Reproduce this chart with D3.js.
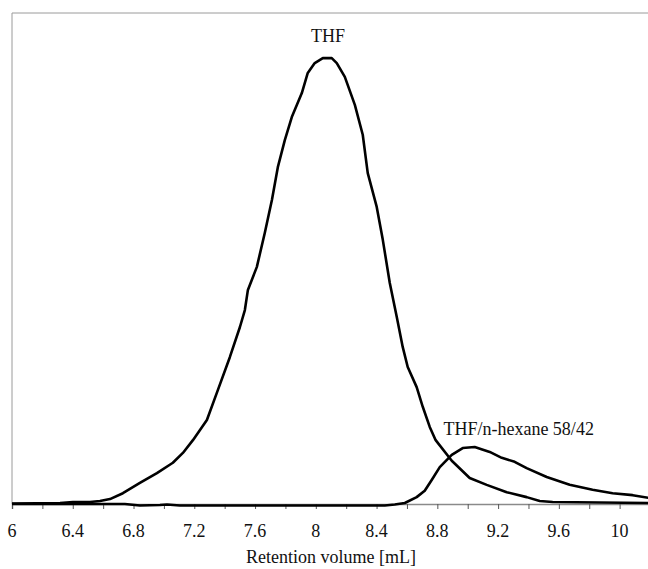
<!DOCTYPE html>
<html>
<head>
<meta charset="utf-8">
<script src="https://cdn.jsdelivr.net/npm/d3@7"></script>
<style>
  html, body { margin: 0; padding: 0; background: #fff; }
  svg { display: block; }
  text { font-family: "Liberation Serif", "Times New Roman", serif; fill: #111; }
</style>
</head>
<body>
<svg id="chart" width="648" height="569"></svg>
<script>
// Retention volume (mL) and detector signal (arbitrary units) for each eluent
const thfVolume = [6.000, 6.316, 6.401, 6.513, 6.579, 6.645, 6.730, 6.842, 6.954, 7.059,
  7.125, 7.191, 7.283, 7.355, 7.434, 7.500, 7.533, 7.553, 7.612, 7.664,
  7.711, 7.750, 7.796, 7.842, 7.908, 7.947, 7.993, 8.046, 8.105, 8.138,
  8.191, 8.257, 8.309, 8.342, 8.401, 8.441, 8.487, 8.533, 8.572, 8.605,
  8.664, 8.704, 8.750, 8.789, 8.895, 9.013, 9.125, 9.257, 9.388, 9.474,
  9.559, 9.868, 10.200];
const thfSignal = [0.1, 0.2, 0.4, 0.4, 0.6, 1.0, 2.2, 4.3, 6.3, 8.4,
  10.4, 13.0, 17.1, 23.2, 29.9, 36.0, 39.5, 43.6, 48.3, 55.2,
  61.9, 68.6, 74.1, 78.8, 83.7, 87.8, 89.8, 90.8, 90.8, 89.8,
  87.0, 81.3, 75.2, 67.4, 60.5, 53.8, 45.0, 38.1, 32.0, 27.9,
  23.8, 19.8, 15.7, 13.0, 8.8, 5.3, 3.9, 2.4, 1.4, 0.6,
  0.4, 0.3, 0.2];

const hexVolume = [6.000, 6.743, 6.842, 6.974, 7.020, 7.105, 7.566, 8.026, 8.454, 8.520,
  8.586, 8.664, 8.717, 8.763, 8.816, 8.895, 8.967, 9.046, 9.145, 9.224,
  9.309, 9.388, 9.520, 9.671, 9.822, 9.954, 10.086, 10.200];
const hexSignal = [0.0, 0.0, -0.3, -0.2, -0.1, -0.3, -0.3, -0.3, -0.3, -0.1,
  0.2, 1.4, 2.7, 4.9, 7.5, 10.0, 11.4, 11.6, 10.6, 9.4,
  8.6, 7.3, 5.5, 3.9, 2.9, 2.2, 1.8, 1.2];

const xTicks = [6, 6.4, 6.8, 7.2, 7.6, 8, 8.4, 8.8, 9.2, 9.6, 10];
const xMinorTicks = d3.range(6, 10.2001, 0.2);
const xTitle = "Retention volume [mL]";
const seriesLabels = [
  { text: "THF", x: 8.08, y: 94.0, anchor: "middle" },
  { text: "THF/n-hexane 58/42", x: 8.84, y: 14.0, anchor: "start" }
];

const svg = d3.select("#chart");
const plot = { left: 12, right: 650, top: 13, bottom: 504 };

const x = d3.scaleLinear().domain([6, 10.2]).range([plot.left, plot.right]);
const y = d3.scaleLinear().domain([0, 100]).range([plot.bottom, plot.top]);

// faint plot frame (top and left)
svg.append("line")
  .attr("x1", plot.left).attr("x2", plot.right)
  .attr("y1", plot.top).attr("y2", plot.top)
  .attr("stroke", "#9a9a9a").attr("stroke-width", 1);
svg.append("line")
  .attr("x1", plot.left).attr("x2", plot.left)
  .attr("y1", plot.top).attr("y2", plot.bottom)
  .attr("stroke", "#9a9a9a").attr("stroke-width", 1);

// bottom axis: ticks every 0.2, labels every 0.4
const axis = svg.append("g")
  .attr("transform", `translate(0,${plot.bottom})`)
  .call(d3.axisBottom(x).tickValues(xMinorTicks).tickSize(5).tickFormat(() => ""));
axis.select(".domain").attr("stroke", "#8a8a8a").attr("stroke-width", 1.5);
axis.selectAll(".tick line").attr("stroke", "#555");

svg.append("g").selectAll("text")
  .data(xTicks)
  .join("text")
  .attr("x", d => x(d))
  .attr("y", 537)
  .attr("text-anchor", "middle")
  .attr("font-size", 18)
  .text(d => d3.format("")(d));

svg.append("text")
  .attr("x", x(8.1))
  .attr("y", 563)
  .attr("text-anchor", "middle")
  .attr("font-size", 18)
  .text(xTitle);

// chromatogram traces
const line = d3.line()
  .x(d => x(d[0]))
  .y(d => y(d[1]));

const series = [
  d3.zip(hexVolume, hexSignal),
  d3.zip(thfVolume, thfSignal)
];

svg.append("g").selectAll("path")
  .data(series)
  .join("path")
  .attr("d", line)
  .attr("fill", "none")
  .attr("stroke", "#000")
  .attr("stroke-width", 2.6)
  .attr("stroke-linejoin", "round");

svg.append("g").selectAll("text")
  .data(seriesLabels)
  .join("text")
  .attr("x", d => x(d.x))
  .attr("y", d => y(d.y) - (d.text === "THF" ? 0 : 0))
  .attr("text-anchor", d => d.anchor)
  .attr("font-size", 18)
  .text(d => d.text);
</script>
</body>
</html>
